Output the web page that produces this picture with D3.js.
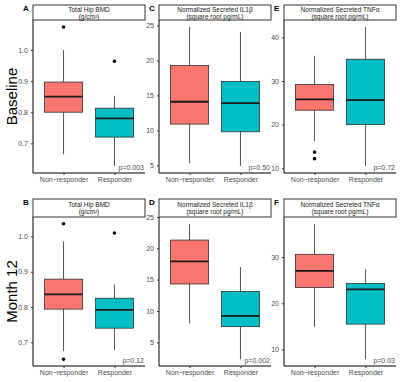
<!DOCTYPE html>
<html>
<head>
<meta charset="utf-8">
<script src="https://cdn.jsdelivr.net/npm/d3@7"></script>
<style>
  body { margin: 0; background: #fff; }
  svg text { font-family: "Liberation Sans", Arial, sans-serif; }
</style>
</head>
<body>
<svg id="chart" width="400" height="382"></svg>
<script>
// groups on the x axis
const groups = ["Non\u2212responder", "Responder"];
const colors = ["#F8766D", "#00BFC4"];

// panel titles and labels
const panelLetters = ["A", "C", "E", "B", "D", "F"];
const stripTop = ["Total Hip BMD", "Normalized Secreted IL1\u03b2", "Normalized Secreted TNF\u03b1",
                  "Total Hip BMD", "Normalized Secreted IL1\u03b2", "Normalized Secreted TNF\u03b1"];
const stripBottom = ["(g/cm\u00b2)", "(square root pg/mL)", "(square root pg/mL)",
                     "(g/cm\u00b2)", "(square root pg/mL)", "(square root pg/mL)"];
const pValues = ["p=0.003", "p=0.50", "p=0.72", "p=0.12", "p=0.002", "p=0.03"];
const rowLabels = ["Baseline", "Month 12"];

// box stats per panel: [lower whisker, q1, median, q3, upper whisker] for each group
const nonResponder = [
  [0.665, 0.80, 0.85, 0.897, 1.0],
  [5.3, 10.9, 14.1, 19.3, 24.8],
  [16.2, 23.3, 25.8, 29.2, 35.8],
  [0.675, 0.794, 0.836, 0.879, 0.986],
  [8.0, 14.3, 17.9, 21.3, 23.9],
  [14.9, 23.4, 27.0, 30.6, 37.2]
];
const responder = [
  [0.627, 0.72, 0.78, 0.813, 0.853],
  [4.9, 9.8, 13.9, 17.0, 24.1],
  [10.5, 20.0, 25.6, 35.0, 42.4],
  [0.678, 0.74, 0.792, 0.825, 0.864],
  [2.3, 7.5, 9.2, 13.1, 17.0],
  [7.9, 15.5, 23.0, 24.3, 27.4]
];
// outliers per panel: [group index, value]
const outliers = [
  [[0, 1.074], [1, 0.964]],
  [],
  [[0, 13.7], [0, 12.2]],
  [[0, 1.036], [0, 0.652], [1, 1.01]],
  [],
  []
];
// tick labels per panel
const yTicks = [
  [0.7, 0.8, 0.9, 1.0],
  [5, 10, 15, 20, 25],
  [10, 20, 30, 40],
  [0.7, 0.8, 0.9, 1.0],
  [5, 10, 15, 20, 25],
  [10, 20, 30]
];

const svg = d3.select("#chart");

const colLeft = [33, 159, 284];
const plotW = 112;
const rows = [
  { stripY: 5, plotTop: 20, plotBottom: 173 },
  { stripY: 199, plotTop: 217, plotBottom: 366 }
];

// row labels
rowLabels.forEach((lab, r) => {
  const mid = (rows[r].plotTop + rows[r].plotBottom) / 2;
  svg.append("text")
    .attr("transform", `translate(17,${mid}) rotate(-90)`)
    .attr("text-anchor", "middle")
    .style("font-size", "15px")
    .attr("fill", "#000")
    .text(lab);
});

for (let p = 0; p < 6; p++) {
  const r = Math.floor(p / 3), c = p % 3;
  const row = rows[r];
  const x0 = colLeft[c];
  const g = svg.append("g");

  // panel letter
  g.append("text")
    .attr("x", x0 - 10).attr("y", row.stripY + 6)
    .style("font-size", "8px").style("font-weight", "bold")
    .text(panelLetters[p]);

  // strip
  g.append("rect")
    .attr("x", x0).attr("y", row.stripY)
    .attr("width", plotW).attr("height", row.plotTop - row.stripY)
    .attr("fill", "#fff").attr("stroke", "#333").attr("stroke-width", 1);
  const sh = row.plotTop - row.stripY;
  g.append("text")
    .attr("x", x0 + plotW / 2).attr("y", row.stripY + sh / 2 - 1)
    .attr("text-anchor", "middle").style("font-size", "6.5px").attr("fill", "#1a1a1a")
    .text(stripTop[p]);
  g.append("text")
    .attr("x", x0 + plotW / 2).attr("y", row.stripY + sh / 2 + 6)
    .attr("text-anchor", "middle").style("font-size", "6.5px").attr("fill", "#1a1a1a")
    .text(stripBottom[p]);

  // scales: ggplot style 5% expansion
  const allVals = nonResponder[p].concat(responder[p], outliers[p].map(d => d[1]));
  const [lo, hi] = d3.extent(allVals);
  const pad = (hi - lo) * 0.05;
  const y = d3.scaleLinear().domain([lo - pad, hi + pad]).range([row.plotBottom, row.plotTop]);
  // point scale: positions at 0.6 and 1.6 steps of 2.2
  const x = d3.scalePoint().domain(groups).range([x0, x0 + plotW]).padding(0.6);
  const step = x.step();
  const boxW = step * 0.75;

  const stats = [nonResponder[p], responder[p]];
  stats.forEach((s, i) => {
    const cx = x(groups[i]);
    g.append("line")
      .attr("x1", cx).attr("x2", cx)
      .attr("y1", y(s[0])).attr("y2", y(s[4]))
      .attr("stroke", "#555").attr("stroke-width", 1);
    g.append("rect")
      .attr("x", cx - boxW / 2).attr("y", y(s[3]))
      .attr("width", boxW).attr("height", y(s[1]) - y(s[3]))
      .attr("fill", colors[i]).attr("stroke", "#333").attr("stroke-width", 0.8);
    g.append("line")
      .attr("x1", cx - boxW / 2).attr("x2", cx + boxW / 2)
      .attr("y1", y(s[2])).attr("y2", y(s[2]))
      .attr("stroke", "#1a1a1a").attr("stroke-width", 1.8);
  });

  g.selectAll(".out")
    .data(outliers[p])
    .enter().append("circle")
    .attr("cx", d => x(groups[d[0]]))
    .attr("cy", d => y(d[1]))
    .attr("r", 1.8)
    .attr("fill", "#000");

  // axes
  const yAxis = g.append("g")
    .attr("transform", `translate(${x0},0)`)
    .call(d3.axisLeft(y).tickValues(yTicks[p]).tickSize(2).tickPadding(3)
      .tickFormat(yTicks[p][0] < 1 ? d3.format(".1f") : d3.format("d")));
  yAxis.select(".domain").attr("d", `M0,${row.plotTop}V${row.plotBottom}`).attr("stroke", "#000");
  yAxis.selectAll(".tick line").attr("stroke", "#333");
  yAxis.selectAll(".tick text").attr("fill", "#4d4d4d").style("font-size", "7px");

  const xAxis = g.append("g")
    .attr("transform", `translate(0,${row.plotBottom})`)
    .call(d3.axisBottom(x).tickSize(2).tickPadding(2));
  xAxis.select(".domain").attr("d", `M${x0},0H${x0 + plotW}`).attr("stroke", "#000");
  xAxis.selectAll(".tick line").attr("stroke", "#333");
  xAxis.selectAll(".tick text").attr("fill", "#4d4d4d").style("font-size", "7px");

  // p value
  g.append("text")
    .attr("x", x0 + plotW - 1).attr("y", row.plotBottom - 3)
    .attr("text-anchor", "end").style("font-size", "7px").attr("fill", "#4d4d4d")
    .text(pValues[p]);
}
</script>
</body>
</html>
